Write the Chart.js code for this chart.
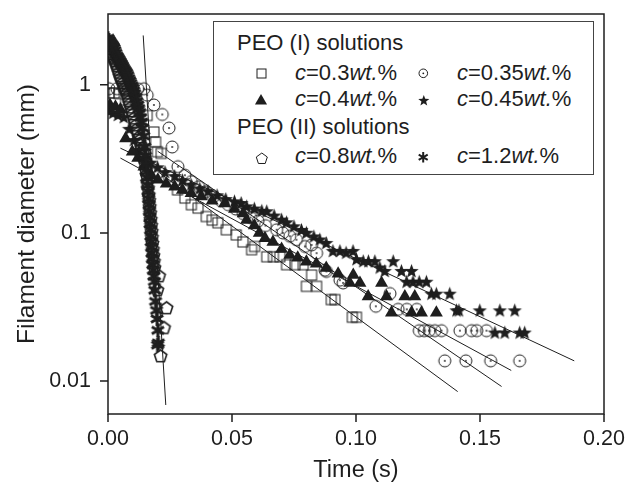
<!DOCTYPE html>
<html>
<head>
<meta charset="utf-8">
<script src="https://cdn.jsdelivr.net/npm/chart.js@4.4.1/dist/chart.umd.min.js"></script>
<style>
  html, body { margin: 0; padding: 0; background: #fff; }
  #wrap { position: relative; width: 626px; height: 485px; font-family: "Liberation Sans", Arial, Helvetica, sans-serif; color: #1e1e1e; }
  #plot { position: absolute; left: 0; top: 0; }
  #legend { position: absolute; left: 213px; top: 21px; width: 379px; height: 152px; border: 1px solid #444; background: #fff; }
  .lg { position: absolute; font-size: 22px; line-height: 28px; white-space: nowrap; }
  .mk { position: absolute; }
</style>
</head>
<body>
<div id="wrap">
  <canvas id="plot" width="626" height="485"></canvas>
  <div id="legend">
    <div class="lg" style="left:23px;top:7px">PEO (I) solutions</div>
    <div class="lg" style="left:81px;top:37px"><i>c</i>=0.3<i>wt.</i>%</div>
    <div class="lg" style="left:243px;top:37px"><i>c</i>=0.35<i>wt.</i>%</div>
    <div class="lg" style="left:81px;top:63px"><i>c</i>=0.4<i>wt.</i>%</div>
    <div class="lg" style="left:243px;top:63px"><i>c</i>=0.45<i>wt.</i>%</div>
    <div class="lg" style="left:23px;top:91px">PEO (II) solutions</div>
    <div class="lg" style="left:81px;top:120px"><i>c</i>=0.8<i>wt.</i>%</div>
    <div class="lg" style="left:243px;top:120px"><i>c</i>=1.2<i>wt.</i>%</div>
  </div>
</div>
<script>
// ---- data (time in s, diameter in mm) ----
const c03Time = [0.0004, 0.0025, 0.0045, 0.0071, 0.0158, 0.0185, 0.0192, 0.0199, 0.0214, 0.0245, 0.028, 0.031, 0.0336, 0.0363, 0.0396, 0.042, 0.0443, 0.0477, 0.0517, 0.0544, 0.0579, 0.0591, 0.064, 0.0667, 0.0693, 0.072, 0.0754, 0.0787, 0.0821, 0.08, 0.0841, 0.09, 0.0915, 0.0985, 0.1002];
const c03Dia  = [0.88, 0.88, 0.87, 0.79, 0.62, 0.48, 0.41, 0.353, 0.344, 0.24, 0.195, 0.172, 0.155, 0.147, 0.129, 0.122, 0.117, 0.105, 0.097, 0.087, 0.077, 0.081, 0.069, 0.069, 0.069, 0.061, 0.061, 0.061, 0.052, 0.0436, 0.0436, 0.0355, 0.0355, 0.027, 0.027];

const c035Time = [0.0004, 0.0036, 0.0064, 0.0093, 0.012, 0.0145, 0.0158, 0.0185, 0.0219, 0.0246, 0.0259, 0.0282, 0.031, 0.0336, 0.0365, 0.0395, 0.0425, 0.0455, 0.0485, 0.0515, 0.0545, 0.0575, 0.0605, 0.0635, 0.068, 0.0705, 0.0733, 0.076, 0.0794, 0.0821, 0.0841, 0.0875, 0.0881, 0.0935, 0.0948, 0.108, 0.1137, 0.117, 0.1205, 0.1245, 0.1255, 0.1275, 0.1295, 0.1318, 0.1345, 0.1419, 0.1466, 0.1487, 0.1526, 0.1358, 0.1443, 0.1543, 0.166];
const c035Dia  = [0.94, 0.94, 0.94, 0.94, 0.94, 0.94, 0.85, 0.73, 0.63, 0.51, 0.38, 0.28, 0.245, 0.222, 0.205, 0.19, 0.175, 0.165, 0.155, 0.145, 0.135, 0.127, 0.12, 0.112, 0.105, 0.1, 0.095, 0.09, 0.081, 0.083, 0.073, 0.056, 0.055, 0.048, 0.046, 0.032, 0.039, 0.0305, 0.0305, 0.0305, 0.0219, 0.0219, 0.0219, 0.0219, 0.0219, 0.0219, 0.0219, 0.0219, 0.0219, 0.0137, 0.0137, 0.0137, 0.0137];

const c04Time = [0.0008, 0.003, 0.005, 0.0071, 0.0098, 0.012, 0.0145, 0.0175, 0.0201, 0.0235, 0.0269, 0.03, 0.0335, 0.0376, 0.042, 0.047, 0.051, 0.0545, 0.0559, 0.059, 0.061, 0.0633, 0.0665, 0.07, 0.0733, 0.0765, 0.08, 0.084, 0.088, 0.0928, 0.0989, 0.0975, 0.1016, 0.1103, 0.1049, 0.1123, 0.1197, 0.1237, 0.1143, 0.1224, 0.1264, 0.1324];
const c04Dia  = [0.73, 0.71, 0.68, 0.434, 0.353, 0.32, 0.28, 0.245, 0.228, 0.215, 0.205, 0.195, 0.185, 0.176, 0.165, 0.158, 0.145, 0.135, 0.122, 0.112, 0.1, 0.092, 0.087, 0.078, 0.071, 0.068, 0.064, 0.062, 0.058, 0.053, 0.052, 0.046, 0.046, 0.046, 0.0373, 0.0373, 0.0373, 0.0373, 0.0289, 0.0289, 0.0289, 0.0289];

const c045Time = [0.0004, 0.002, 0.004, 0.0064, 0.0085, 0.0105, 0.0125, 0.015, 0.0173, 0.02, 0.023, 0.0269, 0.03, 0.0335, 0.037, 0.0403, 0.044, 0.0475, 0.051, 0.0537, 0.0559, 0.059, 0.062, 0.064, 0.067, 0.07, 0.072, 0.075, 0.078, 0.08, 0.083, 0.0854, 0.088, 0.0907, 0.0935, 0.096, 0.0988, 0.1002, 0.1029, 0.105, 0.1076, 0.1096, 0.1116, 0.115, 0.1183, 0.1224, 0.1204, 0.123, 0.1255, 0.1284, 0.1304, 0.1324, 0.1378, 0.1405, 0.1415, 0.1499, 0.158, 0.164, 0.156, 0.16, 0.166, 0.168];
const c045Dia  = [0.66, 0.64, 0.62, 0.6, 0.5, 0.42, 0.36, 0.32, 0.296, 0.275, 0.255, 0.24, 0.225, 0.21, 0.198, 0.19, 0.178, 0.168, 0.162, 0.158, 0.15, 0.145, 0.14, 0.139, 0.13, 0.122, 0.117, 0.11, 0.104, 0.0995, 0.094, 0.0896, 0.085, 0.075, 0.075, 0.073, 0.075, 0.066, 0.064, 0.064, 0.064, 0.058, 0.055, 0.064, 0.055, 0.055, 0.0465, 0.0465, 0.0465, 0.0465, 0.0386, 0.0386, 0.0386, 0.0298, 0.0298, 0.0298, 0.0298, 0.0298, 0.0211, 0.0211, 0.0211, 0.0211];

const c08Time = [0, 0.0004, 0.0008, 0.0012, 0.0016, 0.002, 0.0024, 0.0028, 0.0032, 0.0036, 0.004, 0.0044, 0.0048, 0.0052, 0.0056, 0.006, 0.0064, 0.0068, 0.0072, 0.0076, 0.008, 0.0084, 0.0088, 0.0092, 0.0096, 0.01, 0.0104, 0.0108, 0.0112, 0.0116, 0.012, 0.0124, 0.0128, 0.0132, 0.0136, 0.014, 0.0144, 0.0148,
  0.0151, 0.0155, 0.0158, 0.0161, 0.0164, 0.0166, 0.0168, 0.017, 0.0172, 0.0174, 0.0176, 0.0177, 0.0179, 0.0181, 0.0183, 0.0185, 0.0187, 0.0206, 0.0199, 0.0236, 0.0226, 0.0212];
const c08Dia  = [1.87, 1.8, 1.73, 1.66, 1.6, 1.54, 1.49, 1.44, 1.38, 1.33, 1.26, 1.2, 1.14, 1.1, 1.06, 1.02, 0.98, 0.94, 0.91, 0.87, 0.83, 0.77, 0.74, 0.7, 0.66, 0.63, 0.59, 0.56, 0.53, 0.5, 0.47, 0.44, 0.42, 0.39, 0.37, 0.345, 0.32, 0.3,
  0.27, 0.245, 0.22, 0.2, 0.18, 0.165, 0.15, 0.136, 0.123, 0.112, 0.102, 0.093, 0.085, 0.077, 0.07, 0.064, 0.058, 0.051, 0.041, 0.031, 0.0228, 0.0147];

const c12Time = [0, 0.0004, 0.0008, 0.0012, 0.0016, 0.002, 0.0024, 0.0028, 0.0032, 0.0036, 0.004, 0.0044, 0.0048, 0.0052, 0.0056, 0.006, 0.0064, 0.0068, 0.0072, 0.0076, 0.008, 0.0084, 0.0088, 0.0092, 0.0096, 0.01, 0.0104, 0.0108, 0.0112, 0.0116, 0.012, 0.0124, 0.0128, 0.0132, 0.0136, 0.014, 0.0144, 0.0148, 0.0151,
  0.0153, 0.0156, 0.0158, 0.016, 0.0162, 0.0164, 0.0166, 0.0167, 0.0169, 0.017, 0.0172, 0.0173, 0.0175, 0.0176, 0.0178, 0.0179, 0.0181, 0.0183, 0.0185, 0.0187, 0.0189, 0.0192, 0.0196, 0.0198, 0.0201, 0.0203, 0.02];
const c12Dia  = [2.06, 2.0, 1.95, 1.9, 1.86, 1.82, 1.77, 1.7, 1.63, 1.56, 1.52, 1.48, 1.44, 1.4, 1.36, 1.32, 1.28, 1.25, 1.22, 1.19, 1.15, 1.1, 1.06, 1.02, 0.98, 0.95, 0.91, 0.87, 0.82, 0.77, 0.73, 0.69, 0.65, 0.6, 0.56, 0.51, 0.45, 0.38, 0.33,
  0.29, 0.26, 0.235, 0.21, 0.19, 0.17, 0.155, 0.14, 0.127, 0.115, 0.105, 0.095, 0.087, 0.08, 0.073, 0.067, 0.061, 0.056, 0.051, 0.047, 0.041, 0.0345, 0.03, 0.0263, 0.022, 0.0181, 0.0175];

// fitted lines (start, end)
const fitPeo2T = [0.0142, 0.0233];
const fitPeo2D = [2.15, 0.0069];
const fit03T = [0.02, 0.141];
const fit03D = [0.26, 0.0085];
const fit035T = [0.02, 0.1587];
const fit035D = [0.356, 0.0092];
const fit04T = [0.005, 0.1626];
const fit04D = [0.32, 0.0118];
const fit045T = [0.005, 0.188];
const fit045D = [0.373, 0.0137];

const xTickLabels = ['0.00', '0.05', '0.10', '0.15', '0.20'];
const yTickLabels = ['0.01', '0.1', '1'];

const INK = '#1e1e1e';
Chart.defaults.font.family = '"Liberation Sans", Arial, Helvetica, sans-serif';
Chart.defaults.color = INK;

// ---- marker pictures ----
function marker(size, draw) {
  const c = document.createElement('canvas');
  c.width = size; c.height = size;
  const ctx = c.getContext('2d');
  ctx.translate(size / 2, size / 2);
  ctx.strokeStyle = INK; ctx.fillStyle = INK; ctx.lineWidth = 1;
  draw(ctx);
  return c;
}
function poly(ctx, n, R, r) {
  ctx.beginPath();
  const k = r ? n * 2 : n;
  for (let i = 0; i < k; i++) {
    const a = -Math.PI / 2 + i * 2 * Math.PI / k;
    const rad = r && i % 2 ? r : R;
    ctx.lineTo(Math.cos(a) * rad, Math.sin(a) * rad);
  }
  ctx.closePath();
}
const square = s => marker(s + 4, ctx => { ctx.strokeRect(-s / 2, -s / 2, s, s); });
const dotCircle = r => marker(2 * r + 4, ctx => {
  ctx.beginPath(); ctx.arc(0, 0, r, 0, 2 * Math.PI); ctx.stroke();
  ctx.beginPath(); ctx.arc(0, 0, 0.9, 0, 2 * Math.PI); ctx.fill();
});
const triangle = R => marker(2 * R + 4, ctx => { poly(ctx, 3, R); ctx.fill(); });
const star = R => marker(2 * R + 4, ctx => { poly(ctx, 5, R, R * 0.42); ctx.fill(); });
const pentagon = (R, w) => marker(2 * R + 4, ctx => { ctx.lineWidth = w || 1; poly(ctx, 5, R); ctx.stroke(); });
const asterisk = (R, w) => marker(2 * R + 4, ctx => {
  ctx.lineWidth = w || 2; ctx.beginPath();
  [90, 30, 150].forEach(d => {
    const a = d * Math.PI / 180;
    ctx.moveTo(Math.cos(a) * R, Math.sin(a) * R); ctx.lineTo(-Math.cos(a) * R, -Math.sin(a) * R);
  });
  ctx.stroke();
});

// legend markers
[[square(9), 47, 51], [dotCircle(4.3), 209, 51], [triangle(7), 47, 79], [star(5.8), 209, 78],
 [pentagon(5.8), 47, 136], [asterisk(5.2), 209, 135]].forEach(([c, cx, cy]) => {
  c.className = 'mk';
  c.style.left = (cx - c.width / 2) + 'px';
  c.style.top = (cy - c.height / 2) + 'px';
  document.getElementById('legend').appendChild(c);
});

const pts = (xs, ys) => xs.map((x, i) => ({ x, y: ys[i] }));
const fit = (xs, ys) => ({ data: pts(xs, ys), showLine: true, pointRadius: 0, borderColor: INK, borderWidth: 1, order: 0 });
const series = (xs, ys, style, order) => ({ data: pts(xs, ys), pointStyle: style, pointRadius: 6, order });

const labelFor = v => yTickLabels.find(l => Math.abs(Number(l) - v) < 1e-9);

const framePlugin = {
  id: 'frame',
  afterDatasetsDraw(chart) {
    const { ctx, chartArea: a, scales: { x, y } } = chart;
    ctx.save();
    ctx.strokeStyle = INK;
    ctx.lineWidth = 1.5;
    ctx.strokeRect(a.left, a.top, a.right - a.left, a.bottom - a.top);
    ctx.beginPath();
    x.ticks.forEach(t => {
      const px = x.getPixelForValue(t.value);
      const len = xTickLabels.includes(t.value.toFixed(2)) ? 8 : 5;
      ctx.moveTo(px, a.bottom); ctx.lineTo(px, a.bottom + len);
    });
    y.ticks.forEach(t => {
      const py = y.getPixelForValue(t.value);
      const len = labelFor(t.value) ? 8 : 5;
      ctx.moveTo(a.left, py); ctx.lineTo(a.left - len, py);
    });
    ctx.stroke();
    ctx.restore();
  }
};

new Chart(document.getElementById('plot'), {
  type: 'scatter',
  data: {
    datasets: [
      fit(fitPeo2T, fitPeo2D), fit(fit03T, fit03D), fit(fit035T, fit035D), fit(fit04T, fit04D), fit(fit045T, fit045D),
      series(c12Time, c12Dia, asterisk(7, 3), 1),
      series(c08Time, c08Dia, pentagon(6.5, 1.6), 2),
      series(c03Time, c03Dia, square(10), 3),
      series(c035Time, c035Dia, dotCircle(6), 3),
      { ...series(c04Time, c04Dia, 'triangle', 3), pointRadius: 7.5, pointBackgroundColor: INK, pointBorderColor: INK, pointBorderWidth: 0 },
      series(c045Time, c045Dia, star(7.5), 3)
    ]
  },
  options: {
    responsive: false,
    animation: false,
    events: [],
    layout: { padding: { top: 14, right: 22, left: 0, bottom: 0 } },
    plugins: { legend: { display: false }, tooltip: { enabled: false } },
    scales: {
      x: {
        type: 'linear', min: 0, max: 0.2,
        afterFit: s => { s.height = 71; s.paddingLeft = 0; s.paddingRight = 0; },
        grid: { display: false, drawTicks: false },
        border: { display: false },
        ticks: {
          stepSize: 0.025, autoSkip: false, maxRotation: 0, padding: 12, font: { size: 21.5 },
          callback: v => xTickLabels.includes(v.toFixed(2)) ? v.toFixed(2) : null
        },
        title: { display: true, text: 'Time (s)', font: { size: 23.5 }, padding: { top: 4, bottom: 0 } }
      },
      y: {
        type: 'logarithmic', min: 0.006, max: 3,
        afterFit: s => { s.width = 108; s.paddingTop = 0; s.paddingBottom = 0; },
        grid: { display: false, drawTicks: false },
        border: { display: false },
        ticks: {
          autoSkip: false, padding: 17, font: { size: 21.5 },
          callback: v => labelFor(v) || null
        },
        title: { display: true, text: 'Filament diameter (mm)', font: { size: 24.5 }, padding: { top: 13, bottom: 0 } }
      }
    }
  },
  plugins: [framePlugin]
});
</script>
</body>
</html>
